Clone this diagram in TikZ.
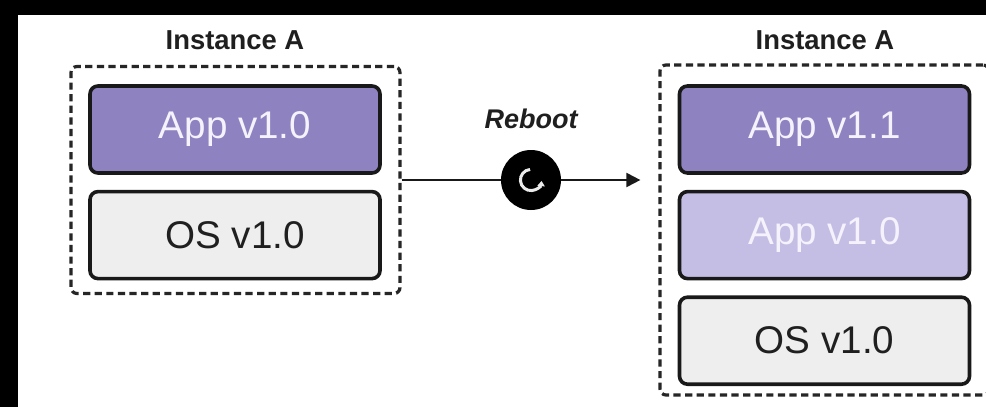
\documentclass[tikz,border=0pt]{standalone}
\usepackage{fontspec}
\setmainfont{Liberation Sans}
\usetikzlibrary{arrows.meta,positioning}
\definecolor{appdark}{RGB}{143,130,192}
\definecolor{applight}{RGB}{197,190,228}
\definecolor{osgray}{RGB}{238,238,238}
\definecolor{apptext}{RGB}{245,242,252}
\begin{document}
\begin{tikzpicture}[x=0.5pt, y=-0.5pt,
  node distance=7.5pt,
  layer/.style={draw=black!90, line width=1.8pt, rounded corners=4pt, inner sep=0pt,
    minimum width=145pt, minimum height=43.5pt, font=\fontsize{19.3}{21}\selectfont},
  app/.style={layer, fill=appdark, text=apptext},
  oldapp/.style={layer, fill=applight, text=apptext},
  os/.style={layer, fill=osgray, text=black!88},
  instance/.style={draw=black!85, dash pattern=on 3.6pt off 2.2pt, line width=1.6pt,
    rounded corners=3pt, inner sep=0pt, minimum width=164.5pt},
  title/.style={font=\bfseries\fontsize{13.7}{15}\selectfont, text=black!88, inner sep=0pt},
  flow/.style={draw=black!90, line width=1pt, -{Triangle[length=7pt,width=7pt]}},
  iconbg/.style={circle, fill=black, minimum size=30pt, inner sep=0pt}
]
\clip (0,0) rectangle (986,407);
\fill[black] (0,0) rectangle (986,407);
\fill[white] (18,15) rectangle (986,407);
% before reboot
\node[instance, minimum height=113.5pt] (boxL) at (235.5,180) {};
\node[title] (titleL) at (235,40) {Instance A};
\node[app] (appL) at (235,129.5) {App v1.0};
\node[os, below=of appL] (osL) {OS v1.0};
% after reboot
\node[instance, minimum height=165pt] (boxR) at (824.5,230) {};
\node[title] (titleR) at (825,40) {Instance A};
\node[app] (newR) at (824.5,129.5) {App v1.1};
\node[oldapp, below=of newR] (oldR) {App v1.0};
\node[os, below=of oldR] (osR) {OS v1.0};
% reboot step
\node[iconbg] (reboot) at (531,180) {};
\draw[flow, shorten >=9pt] (boxL.east) -- (reboot) -- (reboot -| boxR.west);
\node[title, font=\bfseries\itshape\fontsize{13.5}{15}\selectfont, above=10pt of reboot] (rebootlabel) {Reboot};
\draw[white!92!black, line width=1.5pt, -{Triangle[length=2.6pt,width=3.6pt]}]
  ([shift={(95:5.3pt)}]reboot.center) arc[start angle=95, end angle=355, radius=5.3pt];
\end{tikzpicture}
\end{document}
